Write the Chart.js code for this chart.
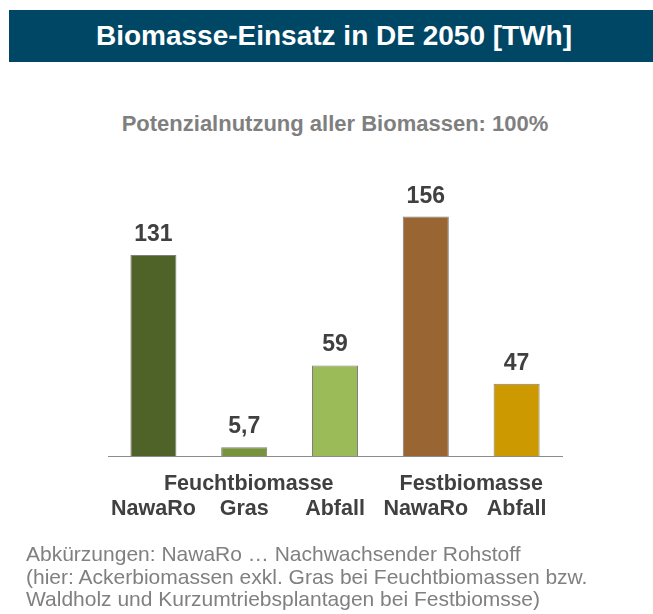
<!DOCTYPE html>
<html>
<head>
<meta charset="utf-8">
<script src="https://cdn.jsdelivr.net/npm/chart.js@4/dist/chart.umd.min.js"></script>
<style>
  html, body { margin: 0; padding: 0; background: #ffffff; }
  body { width: 653px; height: 614px; position: relative; overflow: hidden;
         font-family: 'Liberation Sans', Arial, sans-serif; }
  #titlebar { position: absolute; left: 9px; top: 10px; width: 644px; height: 52px;
              background: #004766; color: #ffffff; font-weight: bold; font-size: 28px;
              line-height: 52px; text-align: center; padding-left: 6px; box-sizing: border-box; }
  #subtitle { position: absolute; left: 0; top: 111px; width: 653px; padding-left: 17px;
              box-sizing: border-box; text-align: center; font-weight: bold; font-size: 22px;
              line-height: 25px; color: #7f7f7f; }
  #note { position: absolute; left: 26px; top: 543px; font-size: 21px; line-height: 22.5px;
          color: #808080; white-space: nowrap; }
  #c { position: absolute; left: 0; top: 0; }
</style>
</head>
<body>
<div id="titlebar">Biomasse-Einsatz in DE 2050 [TWh]</div>
<div id="subtitle">Potenzialnutzung aller Biomassen: 100%</div>
<canvas id="c" width="653" height="614"></canvas>
<div id="note">Abkürzungen: NawaRo … Nachwachsender Rohstoff<br>(hier: Ackerbiomassen exkl. Gras bei Feuchtbiomassen bzw.<br>Waldholz und Kurzumtriebsplantagen bei Festbiomsse)</div>
<script>
// ---- data ----
const categories = ['NawaRo', 'Gras', 'Abfall', 'NawaRo', 'Abfall'];
const values = [131, 5.7, 59, 156, 47];
const groupLabels = ['Feuchtbiomasse', 'Festbiomasse'];
const barColors = ['#4F6228', '#77933C', '#9BBB59', '#996633', '#CC9900'];

const FONT = "'Liberation Sans', Arial, sans-serif";

const valueLabelPlugin = {
  id: 'valueLabels',
  afterDatasetsDraw(chart) {
    const ctx = chart.ctx;
    const meta = chart.getDatasetMeta(0);
    ctx.save();
    ctx.font = 'bold 23px ' + FONT;
    ctx.fillStyle = '#404040';
    ctx.textAlign = 'center';
    ctx.textBaseline = 'alphabetic';
    meta.data.forEach((bar, i) => {
      const txt = String(chart.data.datasets[0].data[i]).replace('.', ',');
      ctx.fillText(txt, bar.x, bar.y - 14);
    });
    ctx.restore();
  }
};

const groupLabelPlugin = {
  id: 'groupLabels',
  afterDraw(chart, args, opts) {
    const ctx = chart.ctx;
    const xs = chart.scales.x;
    ctx.save();
    ctx.font = 'bold 21.5px ' + FONT;
    ctx.fillStyle = '#404040';
    ctx.textAlign = 'center';
    ctx.textBaseline = 'alphabetic';
    opts.groups.forEach(g => {
      ctx.fillText(g.text, xs.getPixelForValue(g.at), chart.chartArea.bottom + 33.5);
    });
    ctx.restore();
  }
};

new Chart(document.getElementById('c'), {
  type: 'bar',
  data: {
    labels: categories,
    datasets: [{
      data: values,
      backgroundColor: barColors,
      borderColor: '#7f7f7f',
      borderWidth: 1,
      barPercentage: 0.507,
      categoryPercentage: 1.0
    }]
  },
  options: {
    responsive: false,
    animation: false,
    devicePixelRatio: 1,
    layout: { padding: { left: 108, right: 91, top: 179.7, bottom: 0 } },
    plugins: {
      legend: { display: false },
      tooltip: { enabled: false },
      title: { display: false },
      groupLabels: {
        groups: [
          { text: groupLabels[0], at: 1.05 },
          { text: groupLabels[1], at: 3.5 }
        ]
      }
    },
    scales: {
      x: {
        grid: { display: false, drawTicks: false },
        border: { display: true, color: '#8c8c8c', width: 1 },
        ticks: {
          color: '#404040',
          font: { family: FONT, size: 21.5, weight: 'bold', lineHeight: 1 },
          padding: 42.5,
          maxRotation: 0,
          autoSkip: false
        },
        afterFit(scale) { scale.height = 614 - 456; }
      },
      y: {
        display: false,
        min: 0,
        max: 180
      }
    }
  },
  plugins: [valueLabelPlugin, groupLabelPlugin]
});
</script>
</body>
</html>
